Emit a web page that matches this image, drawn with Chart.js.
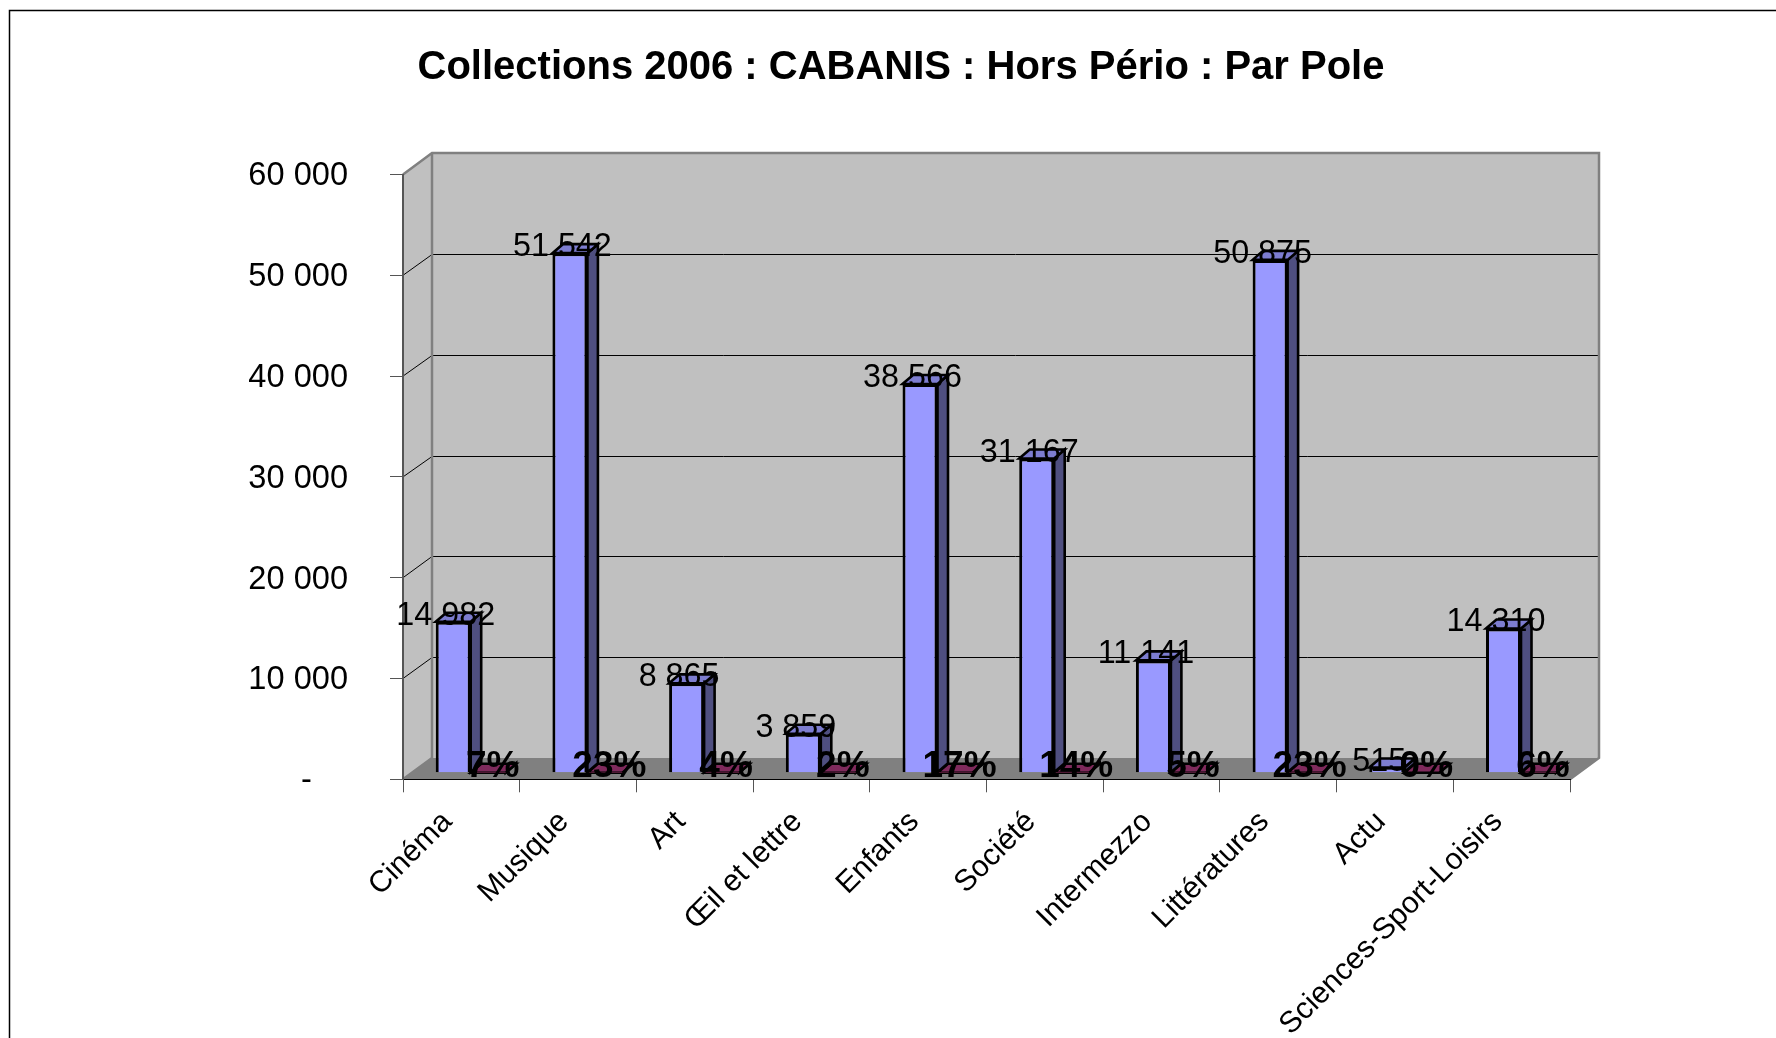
<!DOCTYPE html>
<html><head><meta charset="utf-8">
<style>html,body{margin:0;padding:0;background:#fff}#w{width:1776px;height:1038px;position:relative}</style>
<script src="https://cdn.jsdelivr.net/npm/chart.js@4/dist/chart.umd.min.js"></script>
</head><body><div id="w"><canvas id="c" width="1776" height="1038"></canvas></div>
<script>
const chartTitle = 'Collections 2006 : CABANIS : Hors Pério : Par Pole';
const categories = ['Cinéma','Musique','Art','Œil et lettre','Enfants','Société','Intermezzo','Littératures','Actu','Sciences-Sport-Loisirs'];
const documents = [14982,51542,8865,3859,38566,31167,11141,50875,515,14310];
const shares = [0.07,0.23,0.04,0.02,0.17,0.14,0.05,0.23,0.00,0.06];

const fmt = v => String(v).replace(/\B(?=(\d{3})+$)/g,' ');
const FONT = '"Liberation Sans", Arial, sans-serif';
const DEPTH = {wx:29, wy:-21.4, bx:10.5, by:-9, sx:9.35, sy:-6.6};

const faces = [
  {side:'#4f4f80', top:'#7d7dd0', line:'#000'},
  {side:'#7f2a5c', top:'#7f2a5c', line:'#000'}
];

const scene = {
  id:'scene',
  beforeDraw(chart){
    const {ctx, chartArea:a, scales:{y}} = chart;
    ctx.save();
    ctx.strokeStyle='#000'; ctx.lineWidth=1.5;
    ctx.beginPath(); ctx.moveTo(9.5,1038); ctx.lineTo(9.5,10.5); ctx.lineTo(1776,10.5); ctx.stroke();
    const L=a.left,R=a.right,T=a.top,B=a.bottom,dx=DEPTH.wx,dy=DEPTH.wy;
    ctx.fillStyle='#c0c0c0';
    ctx.beginPath(); ctx.moveTo(L,B);ctx.lineTo(L,T);ctx.lineTo(L+dx,T+dy);ctx.lineTo(R+dx,T+dy);ctx.lineTo(R+dx,B+dy);ctx.lineTo(L+dx,B+dy);ctx.closePath();ctx.fill();
    ctx.fillStyle='#808080';
    ctx.beginPath(); ctx.moveTo(L,B);ctx.lineTo(L+dx,B+dy);ctx.lineTo(R+dx,B+dy);ctx.lineTo(R,B);ctx.closePath();ctx.fill();
    ctx.strokeStyle='#000'; ctx.lineWidth=1;
    y.ticks.forEach(t=>{
      if(t.value===0||t.value===y.max) return;
      const p=y.getPixelForValue(t.value);
      const back=Math.round(p+dy)+0.5;
      ctx.beginPath();ctx.moveTo(L,p);ctx.lineTo(L+dx,back);ctx.lineTo(R+dx,back);ctx.stroke();
    });
    ctx.strokeStyle='#808080'; ctx.lineWidth=2.5;
    ctx.beginPath();ctx.moveTo(L,T);ctx.lineTo(L+dx,T+dy);ctx.lineTo(R+dx,T+dy);ctx.lineTo(R+dx,B+dy);ctx.lineTo(R,B);ctx.stroke();
    ctx.beginPath();ctx.moveTo(L+dx,T+dy);ctx.lineTo(L+dx,B+dy);ctx.lineTo(L,B);ctx.stroke();
    ctx.restore();
  },
  beforeDatasetDraw(chart,args){
    const {ctx}=chart, f=faces[args.index], {bx,by,sx,sy}=DEPTH;
    ctx.save();
    ctx.translate(sx,sy);
    ctx.strokeStyle=f.line; ctx.lineWidth=2.6; ctx.lineJoin='miter';
    args.meta.data.forEach(b=>{
      const l=b.x-b.width/2, r=b.x+b.width/2, t=b.y, bo=b.base;
      ctx.fillStyle=f.side;
      ctx.beginPath();ctx.moveTo(r,t);ctx.lineTo(r+bx,t+by);ctx.lineTo(r+bx,bo+by);ctx.lineTo(r,bo);ctx.closePath();ctx.fill();ctx.stroke();
      ctx.fillStyle=f.top;
      ctx.beginPath();ctx.moveTo(l,t);ctx.lineTo(l+bx,t+by);ctx.lineTo(r+bx,t+by);ctx.lineTo(r,t);ctx.closePath();ctx.fill();ctx.stroke();
    });
  },
  afterDatasetDraw(chart){ chart.ctx.restore(); },
  afterDraw(chart){
    const {ctx}=chart,{sx,sy}=DEPTH;
    ctx.save();
    ctx.fillStyle='#000'; ctx.textAlign='center'; ctx.textBaseline='alphabetic';
    ctx.font='32.3px '+FONT;
    chart.getDatasetMeta(0).data.forEach((b,i)=>{
      ctx.fillText(fmt(documents[i]), b.x+sx-7.5, b.y+sy+3);
    });
    ctx.font='bold 37px '+FONT;
    chart.getDatasetMeta(1).data.forEach((b,i)=>{
      ctx.fillText(Math.round(shares[i]*100)+'%', b.x+sx+4.5, b.base+sy+4.5);
    });
    ctx.restore();
  }
};

new Chart(document.getElementById('c'),{
  type:'bar',
  data:{labels:categories,datasets:[
    {label:'Documents',data:documents,backgroundColor:'#9999ff',borderColor:'#000',borderWidth:3,clip:false},
    {label:'Part',data:shares,backgroundColor:'#993366',borderColor:'#000',borderWidth:0,clip:false}
  ]},
  plugins:[scene],
  options:{
    responsive:false,animation:false,
    layout:{padding:{left:232,right:206,top:0,bottom:0}},
    datasets:{bar:{categoryPercentage:70/116.7,barPercentage:1}},
    plugins:{
      legend:{display:false},tooltip:{enabled:false},
      title:{display:true,text:chartTitle,color:'#000',align:'center',
        font:{family:FONT,size:40,weight:'bold',lineHeight:1.2},
        padding:{top:44,bottom:82.5}}
    },
    scales:{
      x:{
        grid:{drawOnChartArea:false,drawTicks:true,tickLength:13,color:'#555',offset:true},
        border:{display:true,color:'#000',width:1},
        ticks:{color:'#000',font:{family:FONT,size:30.1},minRotation:45,maxRotation:45,autoSkip:false,padding:12,labelOffset:-14},
        afterFit(s){s.height=1038-779.3;}
      },
      y:{
        min:0,max:60000,
        grid:{drawOnChartArea:false,drawTicks:true,tickLength:13,color:'#555'},
        border:{display:true,color:'#555',width:2},
        ticks:{stepSize:10000,color:'#000',padding:42,labelOffset:2,font:{family:FONT,size:32.6},callback:v=>v===0?'-\u00a0\u00a0\u00a0\u00a0':fmt(v)},
        afterFit(s){s.width=403-232;}
      }
    }
  }
});
</script></body></html>
